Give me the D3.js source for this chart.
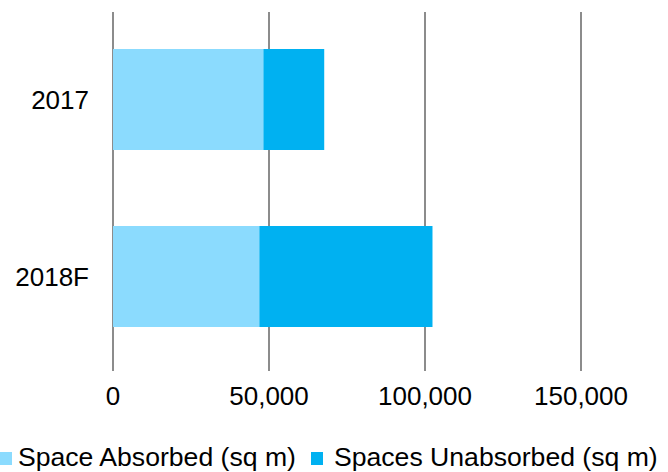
<!DOCTYPE html>
<html>
<head>
<meta charset="utf-8">
<script src="https://cdn.jsdelivr.net/npm/d3@7"></script>
<style>
  html, body { margin: 0; padding: 0; background: #fff; }
  svg { display: block; font-family: "Liberation Sans", Arial, sans-serif; }
</style>
</head>
<body>
<svg id="chart" width="668" height="472"></svg>
<script>
const categories = ["2017", "2018F"];
const seriesNames = ["Space Absorbed (sq m)", "Spaces Unabsorbed (sq m)"];
const absorbed = [48200, 46900];
const unabsorbed = [19500, 55500];
const xTicks = [0, 50000, 100000, 150000];
const colors = ["#8BDBFE", "#00B1F1"];

const svg = d3.select("#chart");
const x = d3.scaleLinear().domain([0, 150000]).range([113, 581]);
const y = d3.scaleBand().domain(categories).range([11, 365]).paddingInner(0.4294).paddingOuter(0.2147);

// gridlines
svg.append("g").selectAll("line").data(xTicks).join("line")
  .attr("x1", d => x(d)).attr("x2", d => x(d))
  .attr("y1", 12).attr("y2", 371)
  .attr("stroke", "#8c8c8c").attr("stroke-width", 2);

const data = categories.map((c, i) => ({ cat: c, a: absorbed[i], u: unabsorbed[i] }));
const stack = d3.stack().keys(["a", "u"])(data);

svg.append("g").selectAll("g").data(stack).join("g")
  .attr("fill", (d, i) => colors[i])
  .selectAll("rect").data(d => d).join("rect")
  .attr("x", d => x(d[0]))
  .attr("width", d => x(d[1]) - x(d[0]))
  .attr("y", d => y(d.data.cat))
  .attr("height", y.bandwidth());

// y labels
svg.append("g").selectAll("text").data(categories).join("text")
  .attr("x", 89).attr("y", d => y(d) + y.bandwidth() / 2)
  .attr("dy", "0.35em")
  .attr("text-anchor", "end").attr("font-size", 26).attr("fill", "#000")
  .text(d => d);

// x labels
const fmt = d3.format(",");
svg.append("g").selectAll("text").data(xTicks).join("text")
  .attr("x", d => x(d)).attr("y", 405)
  .attr("text-anchor", "middle").attr("font-size", 26).attr("fill", "#000")
  .text(d => fmt(d));

// legend
const legendX = [0, 311];
const lg = svg.append("g").selectAll("g").data(seriesNames).join("g")
  .attr("transform", (d, i) => `translate(${legendX[i]},0)`);
lg.append("rect").attr("x", 0).attr("y", 452).attr("width", 12).attr("height", 13)
  .attr("fill", (d, i) => colors[i]);
lg.append("text").attr("x", (d, i) => i === 0 ? 18 : 23).attr("y", 466).attr("font-size", 26.6).attr("fill", "#000")
  .text(d => d);
</script>
</body>
</html>
